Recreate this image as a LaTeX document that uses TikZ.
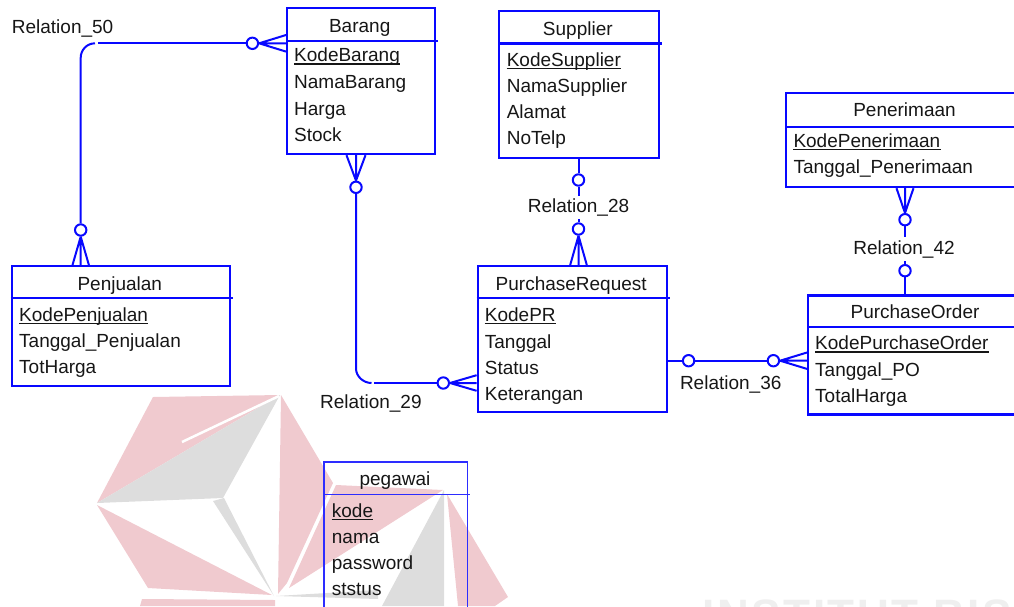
\documentclass[tikz,border=0pt]{standalone}
\usepackage{fontspec}
\setmainfont{Liberation Sans}
\newfontfamily\wmfont[LetterSpace=6]{Liberation Sans}
\usetikzlibrary{calc}

\definecolor{erblue}{RGB}{8,8,255}
\definecolor{erbluelight}{RGB}{45,45,255}
\definecolor{ink}{RGB}{22,22,22}
\definecolor{wmred}{RGB}{240,202,207}
\definecolor{wmgrey}{RGB}{221,221,221}
\definecolor{wmtext}{RGB}{239,239,239}

\newcommand\erfont{\fontsize{19}{22}\selectfont}
% three-pronged crow's foot: apex, middle point on the box edge, half spread
\newcommand\crowfoot[3]{\draw[conn] (#1) -- (#2) (#1) -- ($(#2)+(#3)$) (#1) -- ($(#2)-(#3)$);}
% underline of a key attribute
\newcommand\keyline[1]{\draw[ink, line width=1.3pt] ([yshift=-2.3pt]#1.base west) -- ([yshift=-2.3pt]#1.base east);}

\tikzset{
  entity/.style={draw=erblue, line width=2.2pt, rectangle, inner sep=0pt, anchor=north west},
  hdr/.style={draw=erblue, line width=2.2pt},
  ttl/.style={anchor=base, inner sep=0pt, text=ink, font=\erfont},
  attr/.style={anchor=base west, inner sep=0pt, text=ink, font=\erfont},
  rel/.style={inner sep=0pt, text=ink, font=\erfont},
  relcut/.style={rel, fill=white, inner xsep=2pt, inner ysep=3pt},
  conn/.style={draw=erblue, line width=2pt},
  ocirc/.style={circle, draw=erblue, line width=2pt, fill=white, minimum size=11.4pt, inner sep=0pt},
}

\begin{document}
\begin{tikzpicture}[x=1pt,y=-1pt]
\useasboundingbox (0,0) rectangle (1014,606);
\clip (0,0) rectangle (1014,606);

% ---- faint logo in the background ----
\fill[wmred]  (153,397) -- (280,395) -- (97,503) -- cycle;
\fill[wmgrey] (280,395) -- (97,503) -- (223,498) -- cycle;
\draw[white, line width=2.5pt] (182,442) -- (279,396);
\fill[wmgrey] (213,501) -- (224,498) -- (274,596) -- cycle;
\fill[wmred]  (97,505) -- (272,595) -- (148,588) -- cycle;
\fill[wmred]  (142,599) -- (275,600) -- (275,606) -- (140,606) -- cycle;
\fill[wmred]  (281,395) -- (333,483) -- (287,583) -- (278,594) -- cycle;
\fill[wmred]  (336,485) -- (443,490) -- (289,588) -- cycle;
\fill[wmgrey] (444,490) -- (444,606) -- (382,606) -- cycle;
\fill[wmgrey] (276,596) -- (378,590) -- (378,599) -- cycle;
\fill[wmred]  (447,494) -- (508,597) -- (495,606) -- (458,606) -- cycle;
\node[anchor=base west, inner sep=0pt, text=wmtext, font={\wmfont\bfseries\fontsize{44}{50}\selectfont}] (wm-text) at (702,630.5) {INSTITUT BISNIS};

% ---- entities ----
% Barang
\node[entity, minimum width=147.5pt, minimum height=146pt] (barang) at (286,7) {};
\draw[hdr] ($(barang.north west)+(0,34)$) -- ($(barang.north east)+(2,34)$);
\node[ttl] (barang-t) at (359.7,32.7) {Barang};
\node[attr] (barang-1) at (294,61.7) {KodeBarang};
\node[attr] (barang-2) at (294,88.4) {NamaBarang};
\node[attr] (barang-3) at (294,115.1) {Harga};
\node[attr] (barang-4) at (294,141.8) {Stock};
\keyline{barang-1}

% Supplier
\node[entity, minimum width=159.5pt, minimum height=147pt] (supplier) at (498,10) {};
\draw[hdr] ($(supplier.north west)+(0,33.5)$) -- ($(supplier.north east)+(2,33.5)$);
\node[ttl] (supplier-t) at (577.8,35.3) {Supplier};
\node[attr] (supplier-1) at (506.6,66) {KodeSupplier};
\node[attr] (supplier-2) at (506.6,92.5) {NamaSupplier};
\node[attr] (supplier-3) at (506.6,118.5) {Alamat};
\node[attr] (supplier-4) at (506.6,144.7) {NoTelp};
\keyline{supplier-1}

% Penerimaan
\node[entity, minimum width=239pt, minimum height=94pt] (penerimaan) at (785,92) {};
\draw[hdr] ($(penerimaan.north west)+(0,35)$) -- ($(penerimaan.north east)+(2,35)$);
\node[ttl] (penerimaan-t) at (904.5,116.7) {Penerimaan};
\node[attr] (penerimaan-1) at (793.3,147.3) {KodePenerimaan};
\node[attr] (penerimaan-2) at (793.3,173.3) {Tanggal\_Penerimaan};
\keyline{penerimaan-1}

% Penjualan
\node[entity, minimum width=218.3pt, minimum height=120pt] (penjualan) at (10.7,265) {};
\draw[hdr] ($(penjualan.north west)+(0,33.3)$) -- ($(penjualan.north east)+(2,33.3)$);
\node[ttl] (penjualan-t) at (119.8,290) {Penjualan};
\node[attr] (penjualan-1) at (19,321) {KodePenjualan};
\node[attr] (penjualan-2) at (19,347.3) {Tanggal\_Penjualan};
\node[attr] (penjualan-3) at (19,373.5) {TotHarga};
\keyline{penjualan-1}

% PurchaseRequest
\node[entity, minimum width=189.1pt, minimum height=146pt] (pr) at (476.6,265) {};
\draw[hdr] ($(pr.north west)+(0,33.3)$) -- ($(pr.north east)+(2,33.3)$);
\node[ttl] (pr-t) at (571.2,290.7) {PurchaseRequest};
\node[attr] (pr-1) at (484.7,321.5) {KodePR};
\node[attr] (pr-2) at (484.7,348) {Tanggal};
\node[attr] (pr-3) at (484.7,374.3) {Status};
\node[attr] (pr-4) at (484.7,400.7) {Keterangan};
\keyline{pr-1}

% PurchaseOrder
\node[entity, minimum width=216pt, minimum height=119pt] (po) at (807,294.3) {};
\draw[hdr] ($(po.north west)+(0,32.4)$) -- ($(po.north east)+(2,32.4)$);
\node[ttl] (po-t) at (915,318.3) {PurchaseOrder};
\node[attr] (po-1) at (815,349.7) {KodePurchaseOrder};
\node[attr] (po-2) at (815,376) {Tanggal\_PO};
\node[attr] (po-3) at (815,402.3) {TotalHarga};
\keyline{po-1}

% pegawai
\node[entity, draw=erbluelight, line width=1.6pt, minimum width=143.4pt, minimum height=160pt] (pegawai) at (323.3,461) {};
\draw[hdr, draw=erbluelight, line width=1.6pt] ($(pegawai.north west)+(0,33.3)$) -- ($(pegawai.north east)+(2,33.3)$);
\node[ttl] (pegawai-t) at (395,485.5) {pegawai};
\node[attr] (pegawai-1) at (331.7,517.5) {kode};
\node[attr] (pegawai-2) at (331.7,543.3) {nama};
\node[attr] (pegawai-3) at (331.7,569) {password};
\node[attr] (pegawai-4) at (331.7,595) {ststus};
\keyline{pegawai-1}

% ---- relationships ----
% Relation_50 : Barang -- Penjualan
\node[ocirc] (r50-c1) at (252.4,43.3) {};
\node[ocirc] (r50-c2) at (80.7,230) {};
\coordinate (r50-b) at ($(barang.north west)+(0,36.3)$);
\coordinate (r50-p) at ($(penjualan.north west)+(70,0)$);
\coordinate (r50-k1) at (98.3,43.3);
\coordinate (r50-k2) at (95,43.3);
\crowfoot{r50-c1.east}{r50-b}{0,8.3}
\crowfoot{r50-c2.south}{r50-p}{8.2,0}
\draw[conn] (r50-c1) -- (r50-k1);
\draw[conn] (r50-k2) .. controls (87,43.3) and (80.7,49.8) .. (80.7,57.8) -- (r50-c2);
\node[rel, anchor=base west] (r50-l) at (11.7,33.3) {Relation\_50};

% Relation_29 : Barang -- PurchaseRequest
\node[ocirc] (r29-c1) at (356,187.3) {};
\node[ocirc] (r29-c2) at (443.3,383) {};
\coordinate (r29-b) at ($(barang.south west)+(70,0)$);
\coordinate (r29-r) at ($(pr.north west)+(0,118)$);
\coordinate (r29-k1) at (356,368.5);
\coordinate (r29-k2) at (371.5,383);
\coordinate (r29-k3) at (374,383);
\crowfoot{r29-c1.north}{r29-b}{9.5,0}
\crowfoot{r29-c2.east}{r29-r}{0,7.8}
\draw[conn] (r29-c1) -- (r29-k1) .. controls (356,376.5) and (363.5,383) .. (r29-k2);
\draw[conn] (r29-k3) -- (r29-c2);
\node[rel, anchor=base west] (r29-l) at (320,408.3) {Relation\_29};

% Relation_28 : Supplier -- PurchaseRequest
\node[ocirc] (r28-c1) at (578.5,180) {};
\node[ocirc] (r28-c2) at (578.5,229) {};
\coordinate (r28-s) at ($(supplier.south west)+(80.5,0)$);
\coordinate (r28-p) at ($(pr.north west)+(101.9,0)$);
\draw[conn] (r28-s) -- (r28-c1) -- (r28-c2);
\crowfoot{r28-c2.south}{r28-p}{8.3,0}
\node[relcut, anchor=base] (r28-l) at (578.5,212.3) {Relation\_28};

% Relation_42 : Penerimaan -- PurchaseOrder
\node[ocirc] (r42-c1) at (905,219.7) {};
\node[ocirc] (r42-c2) at (905,270.7) {};
\coordinate (r42-e) at ($(penerimaan.south west)+(120,0)$);
\coordinate (r42-o) at ($(po.north west)+(98,0)$);
\crowfoot{r42-c1.north}{r42-e}{8.5,0}
\draw[conn] (r42-c1) -- (r42-c2) -- (r42-o);
\node[relcut, anchor=base] (r42-l) at (904,254) {Relation\_42};

% Relation_36 : PurchaseRequest -- PurchaseOrder
\node[ocirc] (r36-c1) at (688.6,360.7) {};
\node[ocirc] (r36-c2) at (773.4,360.7) {};
\coordinate (r36-p) at ($(pr.north east)+(0,95.7)$);
\coordinate (r36-o) at ($(po.north west)+(0,66.4)$);
\draw[conn] (r36-p) -- (r36-c1) -- (r36-c2);
\crowfoot{r36-c2.east}{r36-o}{0,8.2}
\node[rel, anchor=base] (r36-l) at (730.7,389) {Relation\_36};
\end{tikzpicture}
\end{document}
